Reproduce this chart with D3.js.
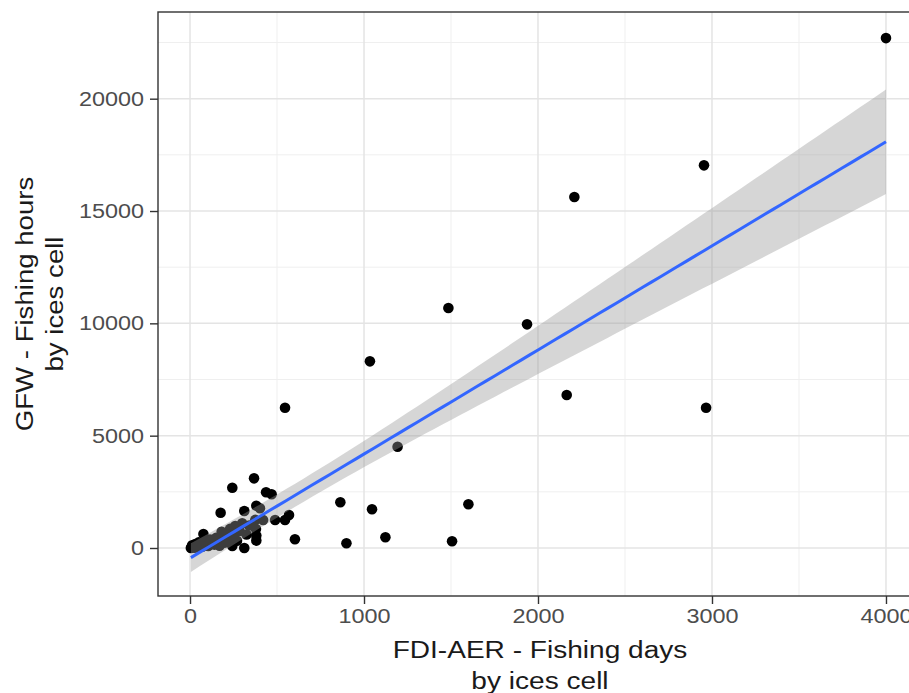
<!DOCTYPE html>
<html>
<head>
<meta charset="utf-8">
<script src="https://cdn.jsdelivr.net/npm/d3@7"></script>
<style>
  html, body { margin: 0; padding: 0; background: #fff; }
  svg { display: block; font-family: "Liberation Sans", Arial, sans-serif; }
</style>
</head>
<body>
<svg id="chart" width="909" height="693"></svg>
<script>
// FDI-AER fishing days vs GFW fishing hours, one point per ICES cell
const fishingDays = [
  5, 10, 12, 18, 25, 30, 35, 45, 50, 60, 70, 77, 85, 95, 105, 115, 125, 140, 150, 160,
  170, 176, 182, 190, 200, 210, 220, 230, 243, 243, 250, 260, 270, 285, 300, 312, 312, 325,
  340, 368, 375, 379, 381, 381, 381, 402, 420, 437, 469, 489, 546, 546, 569, 603,
  864, 899, 1034, 1046, 1123, 1193, 1485, 1506, 1600, 1937, 2165, 2209, 2954, 2966, 4000
];
const fishingHours = [
  0, 40, 120, 60, 10, 180, 90, 30, 250, 140, 60, 623, 300, 200, 90, 380, 260, 150, 450, 330,
  100, 1571, 725, 520, 240, 640, 420, 850, 2684, 89, 560, 980, 320, 760, 1100, 1647, 0, 600,
  1000, 3101, 1250, 850, 560, 330, 1882, 1767, 1246, 2479, 2390, 1246, 1246, 6244, 1469, 387,
  2034, 209, 8309, 1722, 476, 4508, 10681, 298, 1945, 9955, 6809, 15621, 17032, 6245, 22697
];

const xTicks = [0, 1000, 2000, 3000, 4000];
const xMinor = [500, 1500, 2500, 3500];
const yTicks = [0, 5000, 10000, 15000, 20000];
const yMinor = [2500, 7500, 12500, 17500, 22500];

const xTitle = ["FDI-AER - Fishing days", "by ices cell"];
const yTitle = ["GFW - Fishing hours", "by ices cell"];

const svg = d3.select("#chart");
const panel = { left: 158, top: 12, right: 922, bottom: 596 };

const x = d3.scaleLinear().domain([-184, 4207]).range([panel.left, panel.right]);
const y = d3.scaleLinear().domain([-2137, 23859]).range([panel.bottom, panel.top]);

// Linear model with 95% confidence band (geom_smooth(method = "lm"))
const pts = fishingDays.map((d, i) => ({ x: d, y: fishingHours[i] }));
const n = pts.length;
const mx = d3.mean(pts, d => d.x), my = d3.mean(pts, d => d.y);
const sxx = d3.sum(pts, d => (d.x - mx) ** 2);
const sxy = d3.sum(pts, d => (d.x - mx) * (d.y - my));
const slope = sxy / sxx, intercept = my - slope * mx;
const rss = d3.sum(pts, d => (d.y - intercept - slope * d.x) ** 2);
const sigma = Math.sqrt(rss / (n - 2));
const tq = 1.997; // t(0.975, n - 2)
const [x0, x1] = d3.extent(fishingDays);
const fit = d3.range(81).map(i => {
  const xv = x0 + (x1 - x0) * i / 80;
  const yv = intercept + slope * xv;
  const se = sigma * Math.sqrt(1 / n + (xv - mx) ** 2 / sxx);
  return { x: xv, y: yv, lo: yv - tq * se, hi: yv + tq * se };
});

// Panel background and grid
svg.append("defs").append("clipPath").attr("id", "clip")
  .append("rect").attr("x", panel.left).attr("y", panel.top)
  .attr("width", panel.right - panel.left).attr("height", panel.bottom - panel.top);

const grid = svg.append("g");
grid.selectAll(".xmin").data(xMinor).join("line")
  .attr("x1", d => x(d)).attr("x2", d => x(d)).attr("y1", panel.top).attr("y2", panel.bottom)
  .attr("stroke", "#EFEFEF").attr("stroke-width", 1);
grid.selectAll(".ymin").data(yMinor).join("line")
  .attr("y1", d => y(d)).attr("y2", d => y(d)).attr("x1", panel.left).attr("x2", panel.right)
  .attr("stroke", "#EFEFEF").attr("stroke-width", 1);
grid.selectAll(".xmaj").data(xTicks).join("line")
  .attr("x1", d => x(d)).attr("x2", d => x(d)).attr("y1", panel.top).attr("y2", panel.bottom)
  .attr("stroke", "#E4E4E4").attr("stroke-width", 1.5);
grid.selectAll(".ymaj").data(yTicks).join("line")
  .attr("y1", d => y(d)).attr("y2", d => y(d)).attr("x1", panel.left).attr("x2", panel.right)
  .attr("stroke", "#E4E4E4").attr("stroke-width", 1.5);

const plot = svg.append("g").attr("clip-path", "url(#clip)");

// Points
plot.selectAll("circle").data(pts).join("circle")
  .attr("cx", d => x(d.x)).attr("cy", d => y(d.y)).attr("r", 5.3)
  .attr("fill", "#000");

// Confidence ribbon and fitted line
plot.append("path").datum(fit)
  .attr("d", d3.area().x(d => x(d.x)).y0(d => y(d.lo)).y1(d => y(d.hi)))
  .attr("fill", "#999999").attr("fill-opacity", 0.4);
plot.append("path").datum(fit)
  .attr("d", d3.line().x(d => x(d.x)).y(d => y(d.y)))
  .attr("fill", "none").attr("stroke", "#3366FF").attr("stroke-width", 3);

// Panel border
svg.append("rect")
  .attr("x", panel.left).attr("y", panel.top)
  .attr("width", panel.right - panel.left).attr("height", panel.bottom - panel.top)
  .attr("fill", "none").attr("stroke", "#333333").attr("stroke-width", 1.4);

// Widen glyphs along the text direction
function stretch(sel, f) {
  sel.each(function () {
    const w = this.getComputedTextLength();
    d3.select(this).attr("textLength", w * f).attr("lengthAdjust", "spacingAndGlyphs");
  });
}

// Axes
const xAxis = svg.append("g").attr("transform", `translate(0,${panel.bottom})`)
  .call(d3.axisBottom(x).tickValues(xTicks).tickSize(8).tickPadding(5).tickFormat(d3.format("d")));
const yAxis = svg.append("g").attr("transform", `translate(${panel.left},0)`)
  .call(d3.axisLeft(y).tickValues(yTicks).tickSize(8).tickPadding(6).tickFormat(d3.format("d")));
[xAxis, yAxis].forEach(a => {
  a.select(".domain").remove();
  a.selectAll(".tick line").attr("stroke", "#333333").attr("stroke-width", 1.4);
  a.selectAll(".tick text").attr("fill", "#4D4D4D")
    .style("font-family", "'Liberation Sans', Arial, sans-serif").style("font-size", "20px");
});
stretch(xAxis.selectAll(".tick text"), 1.17);
stretch(yAxis.selectAll(".tick text"), 1.17);

// Axis titles
const xt = svg.append("text").attr("text-anchor", "middle")
  .attr("font-size", 23).attr("fill", "#1a1a1a");
xt.selectAll("tspan").data(xTitle).join("tspan")
  .attr("x", (panel.left + panel.right) / 2)
  .attr("y", (d, i) => 658 + i * 30.5)
  .text(d => d);
stretch(xt.selectAll("tspan"), 1.22);

const yt = svg.append("text").attr("text-anchor", "middle")
  .attr("font-size", 23).attr("fill", "#1a1a1a")
  .attr("transform", `translate(0,${(panel.top + panel.bottom) / 2}) rotate(-90)`);
yt.selectAll("tspan").data(yTitle).join("tspan")
  .attr("x", 0)
  .attr("y", (d, i) => 33 + i * 29.5)
  .text(d => d);
stretch(yt.selectAll("tspan"), 1.2);
</script>
</body>
</html>
